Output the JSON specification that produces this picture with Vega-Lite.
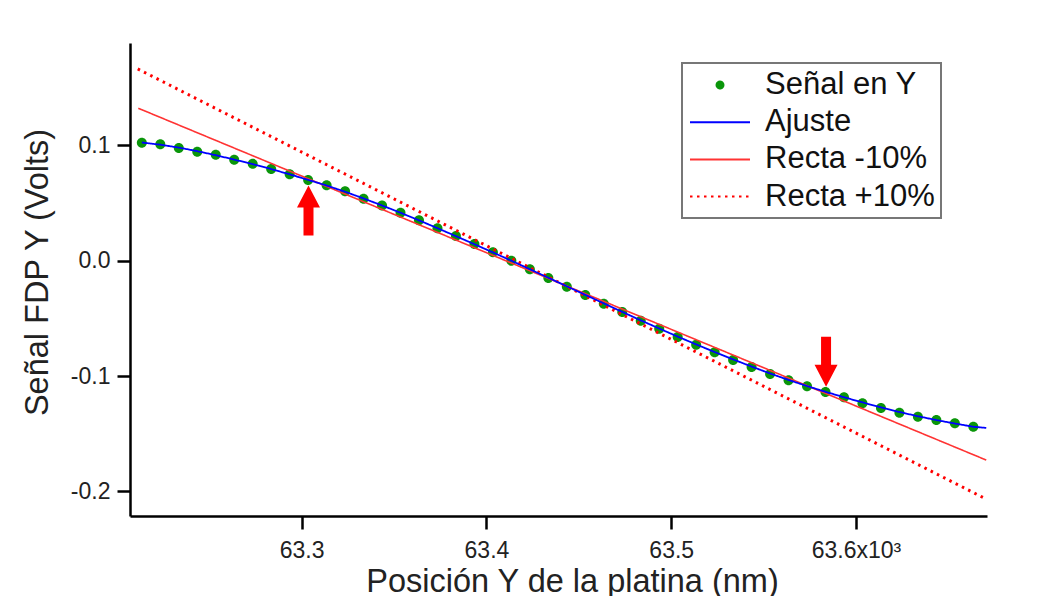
{
  "$schema": "https://vega.github.io/schema/vega-lite/v6.json",
  "width": 857,
  "height": 473,
  "autosize": {"type": "none"},
  "padding": {"left": 130, "top": 43, "right": 51, "bottom": 80},
  "background": "white",
  "config": {
    "font": "Liberation Sans",
    "view": {"stroke": null},
    "axis": {
      "grid": false,
      "domainColor": "#000000",
      "domainWidth": 2.5,
      "tickColor": "#000000",
      "tickWidth": 2.5,
      "tickSize": 13,
      "labelFontSize": 23,
      "labelColor": "#222222",
      "titleFontSize": 32.5,
      "titleFontWeight": "normal",
      "titleColor": "#222222"
    },
    "legend": {"strokeWidth": 2}
  },
  "datasets": {
    "senal": [
      {"x": 63.2135, "y": 0.1023}, {"x": 63.2235, "y": 0.1010}, {"x": 63.2335, "y": 0.0977},
      {"x": 63.2435, "y": 0.0945}, {"x": 63.2535, "y": 0.0919}, {"x": 63.2635, "y": 0.0876},
      {"x": 63.2735, "y": 0.0841}, {"x": 63.2835, "y": 0.0795}, {"x": 63.2935, "y": 0.0749},
      {"x": 63.3035, "y": 0.0700}, {"x": 63.3135, "y": 0.0654}, {"x": 63.3235, "y": 0.0602},
      {"x": 63.3335, "y": 0.0538}, {"x": 63.3435, "y": 0.0479}, {"x": 63.3535, "y": 0.0416},
      {"x": 63.3635, "y": 0.0350}, {"x": 63.3735, "y": 0.0281}, {"x": 63.3835, "y": 0.0214},
      {"x": 63.3935, "y": 0.0145}, {"x": 63.4035, "y": 0.0073}, {"x": 63.4135, "y": 0.0000},
      {"x": 63.4235, "y": -0.0075}, {"x": 63.4335, "y": -0.0150}, {"x": 63.4435, "y": -0.0225},
      {"x": 63.4535, "y": -0.0297}, {"x": 63.4635, "y": -0.0373}, {"x": 63.4735, "y": -0.0445},
      {"x": 63.4835, "y": -0.0520}, {"x": 63.4935, "y": -0.0590}, {"x": 63.5035, "y": -0.0662},
      {"x": 63.5135, "y": -0.0729}, {"x": 63.5235, "y": -0.0794}, {"x": 63.5335, "y": -0.0861},
      {"x": 63.5435, "y": -0.0922}, {"x": 63.5535, "y": -0.0983}, {"x": 63.5635, "y": -0.1037},
      {"x": 63.5735, "y": -0.1089}, {"x": 63.5835, "y": -0.1139}, {"x": 63.5935, "y": -0.1185},
      {"x": 63.6035, "y": -0.1237}, {"x": 63.6135, "y": -0.1278}, {"x": 63.6235, "y": -0.1318},
      {"x": 63.6335, "y": -0.1353}, {"x": 63.6435, "y": -0.1382}, {"x": 63.6535, "y": -0.1410},
      {"x": 63.6635, "y": -0.1440}
    ],
    "ajuste": [
      {"x": 63.2135, "y": 0.1025}, {"x": 63.2235, "y": 0.1006}, {"x": 63.2335, "y": 0.0981},
      {"x": 63.2435, "y": 0.0950}, {"x": 63.2535, "y": 0.0915}, {"x": 63.2635, "y": 0.0877},
      {"x": 63.2735, "y": 0.0838}, {"x": 63.2835, "y": 0.0795}, {"x": 63.2935, "y": 0.0749},
      {"x": 63.3035, "y": 0.0701}, {"x": 63.3135, "y": 0.0652}, {"x": 63.3235, "y": 0.0598},
      {"x": 63.3335, "y": 0.0540}, {"x": 63.3435, "y": 0.0479}, {"x": 63.3535, "y": 0.0416},
      {"x": 63.3635, "y": 0.0350}, {"x": 63.3735, "y": 0.0282}, {"x": 63.3835, "y": 0.0213},
      {"x": 63.3935, "y": 0.0143}, {"x": 63.4035, "y": 0.0072}, {"x": 63.4135, "y": 0.0000},
      {"x": 63.4235, "y": -0.0074}, {"x": 63.4335, "y": -0.0148}, {"x": 63.4435, "y": -0.0222},
      {"x": 63.4535, "y": -0.0296}, {"x": 63.4635, "y": -0.0370}, {"x": 63.4735, "y": -0.0444},
      {"x": 63.4835, "y": -0.0517}, {"x": 63.4935, "y": -0.0588}, {"x": 63.5035, "y": -0.0658},
      {"x": 63.5135, "y": -0.0726}, {"x": 63.5235, "y": -0.0792}, {"x": 63.5335, "y": -0.0856},
      {"x": 63.5435, "y": -0.0918}, {"x": 63.5535, "y": -0.0978}, {"x": 63.5635, "y": -0.1034},
      {"x": 63.5735, "y": -0.1087}, {"x": 63.5835, "y": -0.1137}, {"x": 63.5935, "y": -0.1184},
      {"x": 63.6035, "y": -0.1229}, {"x": 63.6135, "y": -0.1271}, {"x": 63.6235, "y": -0.1312},
      {"x": 63.6335, "y": -0.1349}, {"x": 63.6435, "y": -0.1382}, {"x": 63.6535, "y": -0.1412},
      {"x": 63.6635, "y": -0.1440}, {"x": 63.6705, "y": -0.1450}
    ],
    "rectas": [
      {"serie": "Recta -10%", "x": 63.2116, "y": 0.1322},
      {"serie": "Recta -10%", "x": 63.6705, "y": -0.1729},
      {"serie": "Recta +10%", "x": 63.2113, "y": 0.1663},
      {"serie": "Recta +10%", "x": 63.6697, "y": -0.2061}
    ],
    "flechas": [
      {"dir": "arriba", "x": 63.3037, "y": 0.0435},
      {"dir": "abajo", "x": 63.5838, "y": -0.0877}
    ]
  },
  "encoding": {
    "x": {
      "field": "x",
      "type": "quantitative",
      "scale": {"domain": [63.2071, 63.6709], "nice": false, "zero": false},
      "axis": {
        "values": [63.3, 63.4, 63.5, 63.6],
        "labelExpr": "format(datum.value, '.1f') + (datum.value > 63.55 ? 'x10³' : '')",
        "labelPadding": 10,
        "title": "Posición Y de la platina (nm)",
        "titleX": 442,
        "titleY": 75,
        "titleBaseline": "alphabetic"
      }
    },
    "y": {
      "field": "y",
      "type": "quantitative",
      "scale": {"domain": [-0.2214, 0.1888], "nice": false, "zero": false},
      "axis": {
        "values": [-0.2, -0.1, 0, 0.1],
        "labelExpr": "replace(format(datum.value, '.1f'), '\u2212', '-')",
        "labelPadding": 7,
        "title": "Señal FDP Y (Volts)",
        "titleX": -83,
        "titleY": 229,
        "titleAngle": -90,
        "titleBaseline": "alphabetic"
      }
    }
  },
  "layer": [
    {
      "data": {"name": "senal"},
      "mark": {"type": "point", "filled": true, "size": 1890, "opacity": 1},
      "encoding": {
        "color": {
          "datum": "Señal en Y",
          "type": "nominal",
          "scale": {
            "domain": ["Señal en Y", "Ajuste", "Recta -10%", "Recta +10%"],
            "range": ["#0a960a", "#0000ff", "#ff3333", "#ff0000"]
          },
          "legend": {
            "orient": "none",
            "legendX": 552,
            "legendY": 20,
            "title": null,
            "labelFontSize": 31,
            "labelColor": "#111111",
            "labelLimit": 400,
            "labelOffset": 29,
            "symbolSize": 900,
            "symbolOffset": 16,
            "symbolStrokeWidth": 2,
            "padding": 6,
            "rowPadding": 6.2,
            "strokeColor": "#777777",
            "fillColor": "white"
          }
        },
        "shape": {
          "datum": "Señal en Y",
          "type": "nominal",
          "scale": {
            "domain": ["Señal en Y", "Ajuste", "Recta -10%", "Recta +10%"],
            "range": ["M0,-0.23A0.23,0.23,0,1,1,0,0.23A0.23,0.23,0,1,1,0,-0.23Z", "M-2,0H2", "M-2,0H2", "M-2,0H2"]
          }
        }
      }
    },
    {
      "data": {"name": "rectas"},
      "transform": [{"filter": "datum.serie === 'Recta +10%'"}],
      "mark": {"type": "line", "strokeWidth": 3},
      "encoding": {
        "color": {"datum": "Recta +10%", "type": "nominal"},
        "strokeDash": {
          "datum": "Recta +10%",
          "type": "nominal",
          "scale": {
            "domain": ["Señal en Y", "Ajuste", "Recta -10%", "Recta +10%"],
            "range": [[1, 0], [1, 0], [1, 0], [2.5, 4.5]]
          }
        }
      }
    },
    {
      "data": {"name": "rectas"},
      "transform": [{"filter": "datum.serie === 'Recta -10%'"}],
      "mark": {"type": "line", "strokeWidth": 1.6},
      "encoding": {
        "color": {"datum": "Recta -10%", "type": "nominal"},
        "strokeDash": {"datum": "Recta -10%", "type": "nominal"}
      }
    },
    {
      "data": {"name": "ajuste"},
      "mark": {"type": "line", "strokeWidth": 1.8},
      "encoding": {
        "color": {"datum": "Ajuste", "type": "nominal"},
        "strokeDash": {"datum": "Ajuste", "type": "nominal"}
      }
    },
    {
      "data": {"name": "flechas"},
      "transform": [{"filter": "datum.dir === 'arriba'"}],
      "mark": {
        "type": "point",
        "filled": true,
        "size": 2500,
        "color": "#ff0000",
        "opacity": 1,
        "strokeWidth": 0,
        "shape": "M0,-1L0.46,-0.12L0.2,-0.12L0.2,1L-0.2,1L-0.2,-0.12L-0.46,-0.12Z"
      }
    },
    {
      "data": {"name": "flechas"},
      "transform": [{"filter": "datum.dir === 'abajo'"}],
      "mark": {
        "type": "point",
        "filled": true,
        "size": 2500,
        "color": "#ff0000",
        "opacity": 1,
        "strokeWidth": 0,
        "shape": "M0,1L0.46,0.12L0.2,0.12L0.2,-1L-0.2,-1L-0.2,0.12L-0.46,0.12Z"
      }
    }
  ]
}
